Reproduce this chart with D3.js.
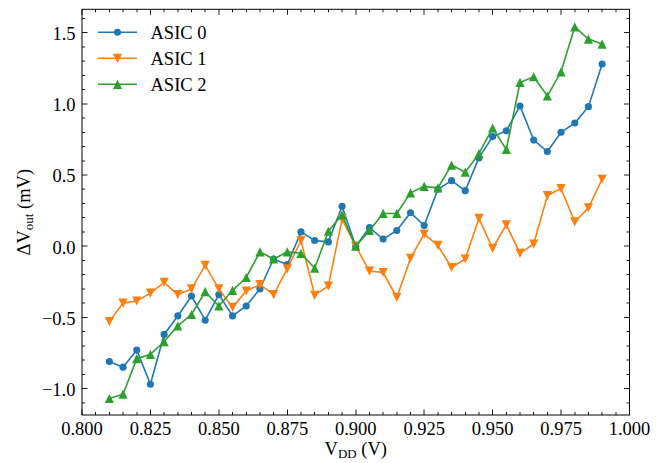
<!DOCTYPE html>
<html>
<head>
<meta charset="utf-8">
<script src="https://cdn.jsdelivr.net/npm/d3@7"></script>
<style>
  html, body { margin: 0; padding: 0; background: #fff; }
</style>
</head>
<body>
<div id="chart"></div>
<script>
// V_DD sweep (V)
const vdd = [0.810, 0.815, 0.820, 0.825, 0.830, 0.835, 0.840, 0.845, 0.850, 0.855,
             0.860, 0.865, 0.870, 0.875, 0.880, 0.885, 0.890, 0.895, 0.900, 0.905,
             0.910, 0.915, 0.920, 0.925, 0.930, 0.935, 0.940, 0.945, 0.950, 0.955,
             0.960, 0.965, 0.970, 0.975, 0.980, 0.985, 0.990];

// delta V_out (mV)
const asic0 = [-0.81, -0.85, -0.73, -0.97, -0.62, -0.49, -0.35, -0.52, -0.34, -0.49,
               -0.42, -0.30, -0.09, -0.13, 0.10, 0.04, 0.03, 0.28, 0.00, 0.13,
               0.05, 0.11, 0.235, 0.145, 0.40, 0.46, 0.39, 0.62, 0.77, 0.81,
               0.985, 0.745, 0.665, 0.80, 0.865, 0.98, 1.28];
const asic1 = [-0.53, -0.40, -0.385, -0.33, -0.255, -0.34, -0.30, -0.135, -0.30, -0.43,
               -0.315, -0.27, -0.34, -0.16, 0.04, -0.345, -0.28, 0.19, 0.00, -0.175,
               -0.185, -0.36, -0.085, 0.085, 0.005, -0.15, -0.09, 0.195, -0.015, 0.15,
               -0.05, 0.015, 0.355, 0.405, 0.17, 0.27, 0.47];
const asic2 = [-1.07, -1.04, -0.79, -0.76, -0.67, -0.56, -0.48, -0.32, -0.42, -0.31,
               -0.22, -0.04, -0.09, -0.04, -0.05, -0.155, 0.105, 0.22, 0.00, 0.11,
               0.23, 0.23, 0.375, 0.42, 0.41, 0.57, 0.52, 0.65, 0.83, 0.68,
               1.15, 1.19, 1.055, 1.225, 1.54, 1.455, 1.42];

const seriesNames = ['ASIC 0', 'ASIC 1', 'ASIC 2'];
const seriesValues = [asic0, asic1, asic2];
const seriesColors = ['#1f77b4', '#ff7f0e', '#2ca02c'];
const seriesMarkers = ['circle', 'down', 'up'];

const xTicks = [0.800, 0.825, 0.850, 0.875, 0.900, 0.925, 0.950, 0.975, 1.000];
const yTicks = [-1.0, -0.5, 0.0, 0.5, 1.0, 1.5];

const width = 662, height = 463;
const margin = { top: 9.3, right: 32.5, bottom: 48, left: 82 };
const FONT = 'Liberation Serif';
const FS = 18.5, SUB = 13;

const svg = d3.select('#chart').append('svg')
  .attr('width', width)
  .attr('height', height)
  .attr('font-family', FONT);

const x = d3.scaleLinear()
  .domain([0.8, 1.0])
  .range([margin.left, width - margin.right]);

const y = d3.scaleLinear()
  .domain([-1.186, 1.664])
  .range([height - margin.bottom, margin.top]);

const x0 = margin.left, x1 = width - margin.right;
const y0 = height - margin.bottom, y1 = margin.top;

// minor ticks
const xMinor = d3.range(0.800, 1.0001, 0.005).filter(v => !xTicks.some(t => Math.abs(t - v) < 1e-6));
const yMinor = d3.range(-1.1, 1.66, 0.1).filter(v => !yTicks.some(t => Math.abs(t - v) < 1e-6));

const axisG = svg.append('g').attr('stroke', '#000').attr('stroke-width', 0.9);
const tickSet = (vals, len, scale, horizontal) => {
  for (const v of vals) {
    const p = Math.round(scale(v) * 2) / 2;
    if (horizontal) {
      axisG.append('line').attr('x1', p).attr('x2', p).attr('y1', y0).attr('y2', y0 - len);
      axisG.append('line').attr('x1', p).attr('x2', p).attr('y1', y1).attr('y2', y1 + len);
    } else {
      axisG.append('line').attr('y1', p).attr('y2', p).attr('x1', x0).attr('x2', x0 + len);
      axisG.append('line').attr('y1', p).attr('y2', p).attr('x1', x1).attr('x2', x1 - len);
    }
  }
};
tickSet(xTicks, 5.5, x, true);
tickSet(xMinor, 3, x, true);
tickSet(yTicks, 5.5, y, false);
tickSet(yMinor, 3, y, false);

// tick labels
svg.append('g').selectAll('text')
  .data(xTicks).join('text')
  .attr('x', d => x(d))
  .attr('y', y0 + 19.5)
  .attr('text-anchor', 'middle')
  .attr('font-family', FONT)
  .attr('font-size', FS)
  .text(d3.format('.3f'));

svg.append('g').selectAll('text')
  .data(yTicks).join('text')
  .attr('x', x0 - 6.5)
  .attr('y', d => y(d) + 7.5)
  .attr('text-anchor', 'end')
  .attr('font-family', FONT)
  .attr('font-size', FS)
  .text(d3.format('.1f'));

// axis labels
const xl = svg.append('text')
  .attr('x', (x0 + x1) / 2)
  .attr('y', 455)
  .attr('text-anchor', 'middle')
  .attr('font-family', FONT)
  .attr('font-size', FS);
xl.append('tspan').text('V');
xl.append('tspan').attr('font-size', SUB).attr('dy', 2.5).text('DD');
xl.append('tspan').attr('dy', -2.5).text(' (V)');

const yl = svg.append('text')
  .attr('transform', `translate(30,${(y0 + y1) / 2}) rotate(-90)`)
  .attr('text-anchor', 'middle')
  .attr('font-family', FONT)
  .attr('font-size', FS);
yl.append('tspan').text('ΔV');
yl.append('tspan').attr('font-size', SUB).attr('dy', 2.5).text('out');
yl.append('tspan').attr('dy', -2.5).text(' (mV)');

// markers
const markerPath = (type) => {
  if (type === 'circle') return d3.symbol(d3.symbolCircle, 40)();
  const s = 4.6;
  return type === 'up'
    ? `M0,${-s}L${s},${s}L${-s},${s}Z`
    : `M0,${s}L${s},${-s}L${-s},${-s}Z`;
};

const line = d3.line()
  .x(d => x(d[0]))
  .y(d => y(d[1]));

const plot = svg.append('g');
seriesValues.forEach((vals, i) => {
  const pts = vdd.map((v, j) => [v, vals[j]]);
  const g = plot.append('g');
  g.append('path')
    .datum(pts)
    .attr('fill', 'none')
    .attr('stroke', seriesColors[i])
    .attr('stroke-width', 1.6)
    .attr('d', line);
  g.selectAll('path.m')
    .data(pts).join('path')
    .attr('class', 'm')
    .attr('transform', d => `translate(${x(d[0])},${y(d[1])})`)
    .attr('fill', seriesColors[i])
    .attr('d', markerPath(seriesMarkers[i]));
});

// frame
svg.append('rect')
  .attr('x', x0).attr('y', y1)
  .attr('width', x1 - x0).attr('height', y0 - y1)
  .attr('fill', 'none')
  .attr('stroke', '#000')
  .attr('stroke-width', 1);

// legend
const legend = svg.append('g');
seriesNames.forEach((name, i) => {
  const ly = 32.3 + i * 26;
  legend.append('line')
    .attr('x1', 98).attr('x2', 137)
    .attr('y1', ly).attr('y2', ly)
    .attr('stroke', seriesColors[i])
    .attr('stroke-width', 1.6);
  legend.append('path')
    .attr('transform', `translate(117.5,${ly})`)
    .attr('fill', seriesColors[i])
    .attr('d', markerPath(seriesMarkers[i]));
  legend.append('text')
    .attr('x', 150.5)
    .attr('y', ly + 6.5)
    .attr('font-family', FONT)
    .attr('font-size', FS)
    .text(name);
});
</script>
</body>
</html>
